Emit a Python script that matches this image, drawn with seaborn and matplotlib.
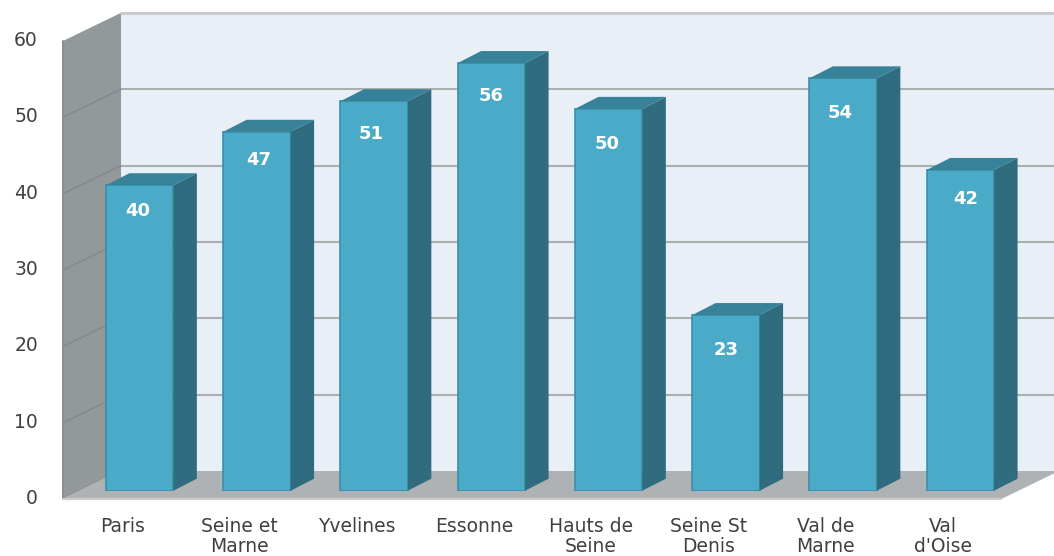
import matplotlib
matplotlib.use("Agg")
import matplotlib.pyplot as plt
from matplotlib.patches import Polygon
from matplotlib.lines import Line2D
from matplotlib.transforms import IdentityTransform, ScaledTranslation
import pandas as pd
import seaborn as sns

departments = ["Paris", "Seine et\nMarne", "Yvelines", "Essonne", "Hauts de\nSeine",
               "Seine St\nDenis", "Val de\nMarne", "Val\nd'Oise"]
values = [40, 47, 51, 56, 50, 23, 54, 42]
y_ticks = [0, 10, 20, 30, 40, 50, 60]

W, H, DPI = 1054, 556, 100
# Individual label nudges inside the bars, in pixels (layout only)
label_drop = [26, 28, 33, 33, 35, 35, 35, 29]
label_shift = [-1.5, 1.5, -3.5, 0, -1, 0, -3, 5]

sns.set_theme(style="white")
plt.rcParams["font.family"] = ["DejaVu Sans"]
fig = plt.figure(figsize=(W / DPI, H / DPI), dpi=DPI)
ax = fig.add_axes([81 / W, (H - 490.7) / H, 938 / W, 458.2 / H])
df = pd.DataFrame({"dept": departments, "val": values})
sns.barplot(data=df, x="dept", y="val", color="#4aaac8", saturation=1, width=0.575, ax=ax,
            edgecolor="#3a8fa9", linewidth=1.2, zorder=5)
ax.set_xlim(-0.5, 7.5)
ax.set_ylim(0, 60)
ax.set_xlabel("")
ax.set_ylabel("")
sns.despine(ax=ax, left=True, bottom=True)
ax.patch.set_visible(False)

ident = IdentityTransform()


def pt(x, y, dx=0.0, dy=0.0):
    px, py = ax.transData.transform((x, y))
    return (px + dx, py + dy)


def poly(points, color, z, edge="none", lw=0):
    fig.add_artist(Polygon(points, closed=True, transform=ident, facecolor=color,
                           edgecolor=edge, linewidth=lw, zorder=z))


def line(a, b, color, lw, z):
    fig.add_artist(Line2D([a[0], b[0]], [a[1], b[1]], transform=ident, color=color, lw=lw, zorder=z))


# Room: front plane and back plane offsets from the bar plane, in pixels
FDX, FDY = -18, -8.5
BDX, BDY = 40, 19.7
x0, x1 = -0.5, 7.5
poly([pt(x0, 0, BDX, BDY), pt(x1, 0, BDX, BDY), pt(x1, 60, BDX, BDY), pt(x0, 60, BDX, BDY)], "#e8eff7", -5)
poly([pt(x0, 0, FDX, FDY), pt(x0, 0, BDX, BDY), pt(x0, 60, BDX, BDY), pt(x0, 60, FDX, FDY)], "#93989a", -4)
poly([pt(x0, 0, FDX, FDY), pt(x1, 0, FDX, FDY), pt(x1, 0, BDX, BDY), pt(x0, 0, BDX, BDY)], "#aeb2b5", -3)
for t in y_ticks:
    col, lw = ("#c9cbcc", 2.2) if t == 60 else ("#acafb0", 1.5)
    if t > 0:
        line(pt(x0, t, BDX, BDY), pt(x1, t, BDX, BDY), col, lw, -2)
    if 0 < t < 60:
        line(pt(x0, t, FDX, FDY), pt(x0, t, BDX, BDY), "#83888a", 1.0, -2)
line(pt(x0, 0, FDX, FDY), pt(x0, 60, FDX, FDY), "#8a8d8e", 1.4, -2)
line(pt(x0, 0, FDX, FDY), pt(x1, 0, FDX, FDY), "#c9cbcc", 1.6, -2)

# Bar depth faces and labels, derived from the bars themselves
DDX, DDY = 23.5, 12
ax.figure.canvas.draw()
for bar, v, drop, shift in zip(ax.patches, values, label_drop, label_shift):
    xa, w = bar.get_x(), bar.get_width()
    xb = xa + w
    poly([pt(xb, 0), pt(xb, 0, DDX, DDY), pt(xb, v, DDX, DDY), pt(xb, v)], "#2f6c80", 1)
    poly([pt(xa, v), pt(xa, v, DDX, DDY), pt(xb, v, DDX, DDY), pt(xb, v)], "#388299", 1)
    ax.annotate(str(v), (xa + w / 2, v), xytext=(shift * 72 / DPI, -drop * 72 / DPI),
                textcoords="offset points", ha="center", va="center", color="white",
                fontweight="bold", fontsize=13, zorder=10)

ax.set_yticks(y_ticks)
ax.set_yticklabels([str(t) for t in y_ticks])
ax.tick_params(axis="both", length=0, labelsize=13.5, labelcolor="#404040")
ax.tick_params(axis="y", pad=31)
ax.tick_params(axis="x", pad=19)
for lbl in ax.get_yticklabels():
    lbl.set_transform(lbl.get_transform() + ScaledTranslation(0, -6 / DPI, fig.dpi_scale_trans))
for lbl in ax.get_xticklabels():
    lbl.set_linespacing(1.05)
    lbl.set_transform(lbl.get_transform() + ScaledTranslation(-17.5 / DPI, 0, fig.dpi_scale_trans))

fig.savefig("out.png", dpi=DPI)
